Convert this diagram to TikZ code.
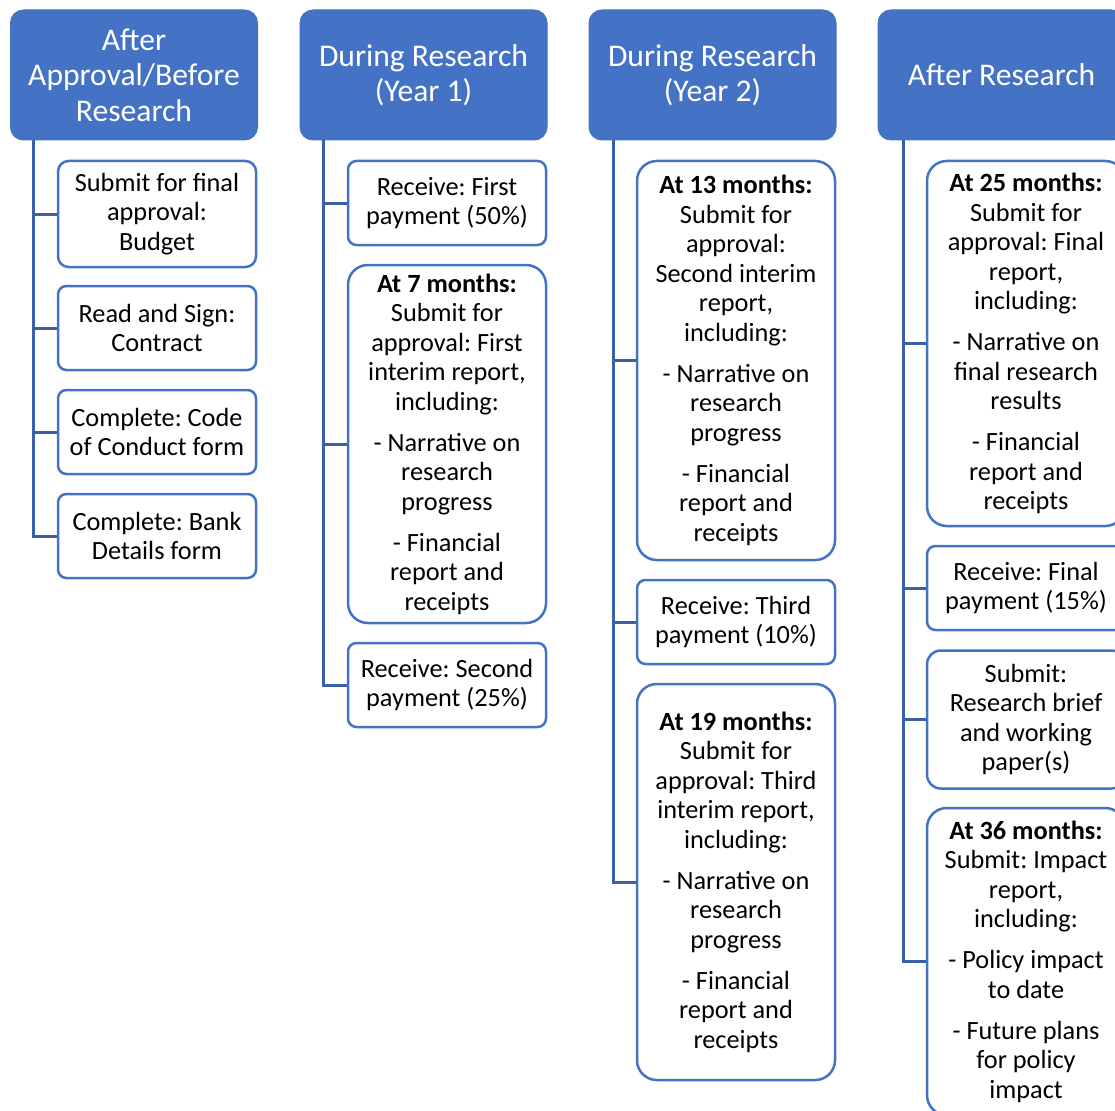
\documentclass[tikz,border=0pt]{standalone}
\usepackage{fontspec}
\setmainfont{Carlito}
\frenchspacing
\definecolor{hdrblue}{HTML}{4472C4}
\definecolor{boxblue}{HTML}{4472C4}
\definecolor{lineblue}{HTML}{3A61A7}
\tikzset{
  hdr/.style={draw=hdrblue, line width=1pt, fill=hdrblue, text=white, align=center,
    minimum width=247pt, minimum height=130pt, rounded corners=13pt, inner sep=0pt,
    font=\fontsize{31.6}{35.5}\selectfont},
  item/.style={draw=boxblue, line width=2.5pt, fill=white, text=black, align=center,
    minimum width=198pt, inner sep=0pt,
    font=\fontsize{26.3}{29.5}\selectfont},
  small/.style={item, minimum height=84pt, rounded corners=8.5pt},
  conn/.style={draw=lineblue, line width=3pt}
}
\newcommand{\psk}{\\[11.5pt]}
\begin{document}
\begin{tikzpicture}[x=1pt,y=-1pt]
\useasboundingbox (0,0) rectangle (1115,1110);
\clip (0,0) rectangle (1115,1110);
% headers
\node[hdr] (h1) at (134,75) {After\\Approval/Before\\Research};
\node[hdr] (h2) at (423.5,75) {During Research\\(Year 1)};
\node[hdr] (h3) at (712.5,75) {During Research\\(Year 2)};
\node[hdr] (h4) at (1001.5,75) {After Research};
\coordinate (t1) at (33,140);
\coordinate (t2) at (323,140);
\coordinate (t3) at (613,140);
\coordinate (t4) at (903,140);
% column 1
\node[item, minimum height=106pt, rounded corners=10.5pt] (c11) at (157,214) {Submit for final\\approval:\\Budget};
\node[small] (c12) at (157,328) {Read and Sign:\\Contract};
\node[small] (c13) at (157,432) {Complete: Code\\of Conduct form};
\node[small] (c14) at (157,536) {Complete: Bank\\Details form};
% column 2
\node[small] (c21) at (447,203) {Receive: First\\payment (50\%)};
\node[item, minimum height=358pt, rounded corners=19.8pt] (c22) at (447,444) {\textbf{At 7 months:}\\Submit for\\approval: First\\interim report,\\including:\psk- Narrative on\\research\\progress\psk- Financial\\report and\\receipts};
\node[small] (c23) at (447,685) {Receive: Second\\payment (25\%)};
% column 3
\node[item, minimum height=399pt, rounded corners=19.8pt] (c31) at (736,360.5) {\textbf{At 13 months:}\\Submit for\\approval:\\Second interim\\report,\\including:\psk- Narrative on\\research\\progress\psk- Financial\\report and\\receipts};
\node[small] (c32) at (736,622) {Receive: Third\\payment (10\%)};
\node[item, minimum height=396pt, rounded corners=19.8pt] (c33) at (736,882) {\textbf{At 19 months:}\\Submit for\\approval: Third\\interim report,\\including:\psk- Narrative on\\research\\progress\psk- Financial\\report and\\receipts};
% column 4
\node[item, minimum height=365pt, rounded corners=19.8pt] (c41) at (1026,343.5) {\textbf{At 25 months:}\\Submit for\\approval: Final\\report,\\including:\psk- Narrative on\\final research\\results\psk- Financial\\report and\\receipts};
\node[small] (c42) at (1026,588) {Receive: Final\\payment (15\%)};
\node[item, minimum height=138pt, rounded corners=13.8pt] (c43) at (1026,719.5) {Submit:\\Research brief\\and working\\paper(s)};
\node[item, minimum height=307pt, rounded corners=19.8pt] (c44) at (1026,961.5) {\textbf{At 36 months:}\\Submit: Impact\\report,\\including:\psk- Policy impact\\to date\psk- Future plans\\for policy\\impact};
% connectors
\foreach \c/\t in {c11/t1,c12/t1,c13/t1,c14/t1,c21/t2,c22/t2,c23/t2,c31/t3,c32/t3,c33/t3,c41/t4,c42/t4,c43/t4,c44/t4}
  \draw[conn] (\t) |- (\c.west);
\end{tikzpicture}
\end{document}
